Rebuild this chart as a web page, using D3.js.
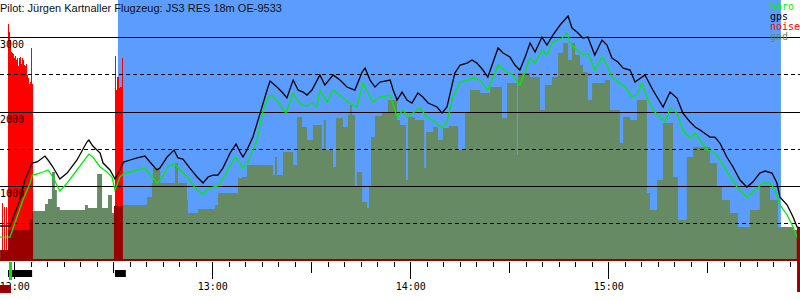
<!DOCTYPE html>
<html>
<head>
<meta charset="utf-8">
<script src="https://cdn.jsdelivr.net/npm/d3@7"></script>
<style>
  body { margin: 0; background: #fff; }
  svg { display: block; }
</style>
</head>
<body>
<div id="chart"></div>
<script>
const width = 800;
const height = 300;
const title = 'Pilot: Jürgen Kartnaller Flugzeug: JS3 RES 18m OE-9533';

// times are minutes after 12:00, heights in metres
const gps = [[-4.3,463],[-1.3,463],[1.7,812],[3.2,1080],[5.4,1308],[6.9,1322],[9.3,1402],[10.2,1349],
  [11.7,1255],[13.8,1094],[16.0,1174],[19.0,1349],[22.0,1590],[22.6,1617],[23.8,1536],[26.0,1443],
  [26.9,1308],[29.0,1215],[30.5,1094],[32.0,1215],[33.1,1322],[35.1,1349],[37.2,1376],[39.6,1402],
  [41.1,1322],[43.2,1215],[44.1,1241],[46.3,1389],[48.4,1483],[49.6,1376],[51.1,1362],[53.2,1241],
  [55.4,1121],[57.2,1040],[58.7,1121],[60.2,1147],[61.7,1147],[63.2,1241],[65.4,1443],[67.2,1563],
  [68.4,1456],[69.3,1389],[70.5,1483],[72.3,1657],[74.5,1979],[76.6,2288],[77.5,2409],[79.6,2328],
  [81.4,2248],[82.6,2181],[84.5,2422],[86.0,2288],[87.5,2261],[88.7,2221],[90.2,2288],[92.6,2490],
  [94.1,2355],[96.6,2490],[98.7,2422],[100.8,2328],[103.2,2288],[105.4,2530],[106.3,2583],[107.8,2422],
  [109.3,2328],[110.8,2395],[113.9,2422],[114.8,2288],[116.0,2154],[117.5,2261],[119.0,2154],[120.5,2114],
  [122.3,2248],[123.8,2194],[125.4,2114],[128.1,2060],[129.6,1979],[131.1,2060],[133.5,2516],[135.1,2624],
  [137.2,2650],[138.7,2691],[140.2,2650],[142.0,2557],[143.5,2463],[146.6,2852],[148.1,2785],[150.2,2731],
  [151.7,2624],[153.2,2557],[154.8,2731],[156.3,2919],[157.8,2798],[159.9,2999],[161.4,2892],[163.2,3026],
  [165.4,3161],[167.8,3281],[169.0,3120],[170.5,3067],[172.3,2986],[173.8,2999],[175.9,2758],[178.1,2959],
  [179.6,2892],[181.1,2718],[182.9,2664],[184.5,2583],[186.6,2557],[188.1,2395],[191.1,2490],[193.5,2288],
  [196.6,2060],[198.7,2261],[200.8,2181],[202.6,1979],[204.8,1859],[206.3,1792],[207.8,1751],[210.8,1657],
  [212.3,1657],[213.8,1577],[215.9,1389],[217.8,1255],[219.9,1080],[222.0,986],[223.8,1053],[225.9,1174],
  [227.5,1201],[229.6,1174],[231.1,1040],[232.0,852],[234.2,745],[236.0,584],[237.2,450],[238.1,436]];

const baro = [[-4.3,315],[-1.3,315],[2.6,812],[4.8,1040],[5.4,1147],[6.9,1161],[8.7,1188],[10.2,1215],
  [11.7,1121],[13.8,933],[16.0,1040],[19.0,1215],[22.6,1429],[23.8,1389],[26.0,1255],[28.1,1188],
  [29.6,1121],[30.5,946],[32.0,1121],[33.4,1174],[35.1,1188],[37.5,1215],[39.6,1241],[41.7,1121],
  [43.2,1040],[44.8,1107],[46.6,1268],[48.7,1295],[50.8,1188],[52.6,1121],[54.8,973],[56.9,892],
  [58.4,946],[60.2,986],[61.7,1000],[63.8,1147],[66.9,1389],[68.4,1308],[69.3,1241],[70.8,1322],
  [73.5,1617],[75.4,2020],[76.9,2194],[78.1,2221],[79.9,2127],[82.3,1979],[84.5,2248],[86.6,2100],
  [88.7,2073],[90.2,2114],[91.7,2060],[92.6,2288],[94.8,2127],[96.6,2288],[99.3,2194],[101.1,2127],
  [103.8,2060],[105.7,2382],[107.2,2248],[108.7,2127],[110.8,2194],[113.9,2221],[116.0,1926],[117.8,2020],
  [119.3,1926],[120.8,1979],[122.9,2047],[125.0,1926],[127.5,1859],[129.6,1778],[131.1,1859],[132.9,2194],
  [135.1,2395],[137.2,2422],[139.0,2449],[141.1,2422],[143.5,2288],[146.6,2624],[149.3,2530],[151.1,2490],
  [153.2,2355],[156.3,2718],[157.8,2650],[159.9,2825],[161.4,2758],[163.2,2932],[166.0,2986],[167.5,3053],
  [168.4,2919],[170.5,2825],[172.3,2758],[173.8,2785],[175.9,2557],[178.1,2731],[179.6,2624],[181.1,2463],
  [182.9,2395],[185.1,2328],[187.2,2194],[188.7,2221],[190.2,2382],[192.0,2154],[194.1,1993],[197.2,1859],
  [198.7,2047],[200.8,1979],[202.6,1751],[204.8,1644],[206.3,1711],[208.4,1577],[210.2,1483],[212.3,1443],
  [214.4,1308],[216.3,1174],[219.0,986],[222.0,852],[223.8,919],[226.9,1040],[229.0,1040],[230.5,946],
  [232.0,745],[234.2,611],[236.0,450],[237.2,315],[238.1,275]];

// terrain below the glider, each value holds until the next time
const gnd = [[-4.3,141],[-1.9,409],[4.5,557],[5.4,664],[9.3,758],[10.2,825],[11.4,1188],[12.3,946],
  [12.9,718],[13.8,678],[21.4,745],[22.3,705],[25.1,1161],[26.6,705],[28.4,879],[29.6,637],[30.2,731],
  [32.9,745],[40.2,852],[41.7,1040],[42.0,1241],[44.2,1040],[48.7,1308],[49.6,1040],[52.3,812],
  [52.6,637],[55.7,691],[60.8,745],[61.7,906],[67.8,1107],[69.0,1121],[70.5,1282],[78.4,1147],
  [79.0,1389],[79.6,1147],[81.4,1456],[84.5,1282],[85.7,1926],[87.2,1792],[88.7,1617],[90.5,1818],
  [93.2,1483],[93.8,1885],[94.4,1483],[96.6,1255],[97.5,1912],[99.6,1792],[101.1,1953],[101.7,2087],
  [102.3,1953],[103.2,986],[103.8,1188],[105.4,785],[106.9,705],[107.5,986],[108.1,1657],[109.3,1939],
  [111.4,1993],[113.2,2154],[116.0,1885],[116.9,1818],[118.7,1080],[119.3,1926],[121.4,1885],
  [124.2,1241],[124.8,1724],[126.9,1792],[128.4,1617],[129.9,1778],[131.7,1805],[134.5,1483],
  [136.6,1979],[138.1,2288],[141.1,2248],[144.2,2328],[147.8,1912],[149.3,2382],[152.3,1416],
  [152.6,2516],[156.3,2463],[159.3,2020],[160.8,2355],[162.9,2463],[164.8,2785],[166.3,2919],
  [167.8,2691],[169.0,2919],[169.9,2758],[171.4,2624],[172.3,2530],[173.8,2154],[175.1,2382],
  [179.0,2422],[180.5,2020],[183.5,1577],[184.5,1926],[186.6,1885],[188.7,2154],[191.7,906],
  [192.6,678],[194.8,1080],[196.6,1845],[199.6,1121],[201.1,544],[203.8,1389],[205.7,1523],
  [210.8,1308],[212.9,986],[214.4,812],[216.9,637],[219.3,450],[222.9,678],[225.9,986],[229.0,812],
  [231.4,450],[236.0,409],[238.1,409]];

// engine noise level 0..1000
const noise = [[-3.73,219],[-3.12,204],[-2.52,204],
  [-1.91,908],[-1.61,877],[-1.30,846],[-1.00,800],[-0.70,796],[-0.39,792],[-0.09,777],[0.21,785],
  [0.52,769],[0.82,777],[1.12,746],[1.42,777],[1.73,781],[2.03,754],[2.33,777],[2.64,769],[2.94,750],
  [3.24,746],[3.55,754],[3.85,712],[4.15,700],[4.45,677],[4.76,685],[5.06,815],[5.36,677],
  [30.52,785],[30.82,654],[31.12,704],[31.42,704],[31.73,662],[32.03,665],[32.33,665],[32.64,777],
  [237.2,123],[237.5,123],[237.8,123]];

const noisyGround = [[-4.3,5.7],[30.2,32.9],[237.1,238.1]];
const engineRuns = [[-1.9,5.4],[30.5,33.8]];
const taskSpan = [31.4,232.3];
const takeoff = [-1.6,-0.7];
const landing = [237.2,238.1];

const solidLevels = [1000,2000,3000];
const dashedLevels = [500,1500,2500];
const legend = [{name:'baro',color:'#00ee00'},{name:'gps',color:'#000'},{name:'noise',color:'#ff0000'},{name:'gnd',color:'#658a64'}];

const t0 = new Date(2021, 6, 1, 12, 0, 0);
const at = m => new Date(+t0 + m * 60000);

const x = d3.scaleTime().domain([at(-4.333), at(238.09)]).range([0, width]);
const y = d3.scaleLinear().domain([0, 3000]).range([260.5, 37]);
const yNoise = d3.scaleLinear().domain([0, 1000]).range([260.5, 0]);

const svg = d3.select('#chart').append('svg')
  .attr('width', width)
  .attr('height', height)
  .style('font-family', '"DejaVu Sans Mono", monospace');

svg.append('rect').attr('width', width).attr('height', height).attr('fill', '#fff');

// task area
svg.append('rect')
  .attr('x', x(at(taskSpan[0])))
  .attr('y', 0)
  .attr('width', x(at(taskSpan[1])) - x(at(taskSpan[0])))
  .attr('height', y(0))
  .attr('fill', '#5b9dff');

// noise bars
svg.append('g')
  .attr('shape-rendering', 'crispEdges')
  .selectAll('rect')
  .data(noise)
  .join('rect')
  .attr('x', d => x(at(d[0])))
  .attr('y', d => yNoise(d[1]))
  .attr('width', (d, i) => i < 3 ? 1 : 1.4)
  .attr('height', d => yNoise(0) - yNoise(d[1]))
  .attr('fill', '#ff0000');

// ground
const area = d3.area()
  .x(d => x(at(d[0])))
  .y0(y(0))
  .y1(d => y(d[1]))
  .curve(d3.curveStepAfter);

svg.append('path').datum(gnd).attr('d', area).attr('fill', '#658a64');

const clip = svg.append('clipPath').attr('id', 'noisy');
clip.selectAll('rect')
  .data(noisyGround)
  .join('rect')
  .attr('x', d => x(at(d[0])))
  .attr('y', 0)
  .attr('width', d => x(at(d[1])) - x(at(d[0])))
  .attr('height', height);

svg.append('path').datum(gnd).attr('d', area).attr('fill', '#990000').attr('clip-path', 'url(#noisy)');

// grid
svg.append('g')
  .attr('shape-rendering', 'crispEdges')
  .selectAll('line')
  .data(solidLevels.concat(dashedLevels))
  .join('line')
  .attr('x1', 0)
  .attr('x2', width)
  .attr('y1', d => Math.round(y(d)) + 0.5)
  .attr('y2', d => Math.round(y(d)) + 0.5)
  .attr('stroke', '#000')
  .attr('stroke-dasharray', d => solidLevels.includes(d) ? null : '4,3');

// traces
const line = d3.line()
  .x(d => x(at(d[0])))
  .y(d => y(d[1]));

svg.append('path').datum(gps)
  .attr('d', line)
  .attr('fill', 'none')
  .attr('stroke', '#000')
  .attr('stroke-width', 1.3);

svg.append('path').datum(baro)
  .attr('d', line)
  .attr('fill', 'none')
  .attr('stroke', '#00ee00')
  .attr('stroke-width', 1.3);

// ground line of time axis
svg.append('rect')
  .attr('x', 0).attr('y', 259).attr('width', width).attr('height', 2)
  .attr('fill', '#990000');

// time axis
const axis = svg.append('g')
  .attr('transform', 'translate(0,262)')
  .call(d3.axisBottom(x)
    .ticks(d3.timeMinute.every(5))
    .tickSize(5)
    .tickFormat(d => d.getMinutes() === 0 ? d3.timeFormat('%H:%M')(d) : ''));

axis.select('.domain').remove();
axis.selectAll('.tick line')
  .attr('stroke', '#000')
  .attr('shape-rendering', 'crispEdges')
  .attr('y2', d => d.getMinutes() === 0 ? 17 : d.getMinutes() === 30 ? 11 : 5);

// engine runs and takeoff/landing marks
svg.append('g')
  .selectAll('rect')
  .data(engineRuns)
  .join('rect')
  .attr('x', d => x(at(d[0])))
  .attr('y', 270)
  .attr('width', d => x(at(d[1])) - x(at(d[0])))
  .attr('height', 7)
  .attr('fill', '#000');

svg.append('rect')
  .attr('x', x(at(takeoff[0]))).attr('y', 262)
  .attr('width', x(at(takeoff[1])) - x(at(takeoff[0]))).attr('height', 18)
  .attr('fill', '#11dd11');

svg.append('rect')
  .attr('x', x(at(landing[0]))).attr('y', 228)
  .attr('width', x(at(landing[1])) - x(at(landing[0]))).attr('height', 64)
  .attr('fill', '#990000');

svg.append('rect')
  .attr('x', 0).attr('y', 285).attr('width', 11).attr('height', 8)
  .attr('fill', '#990000');

axis.selectAll('.tick text')
  .attr('y', 28)
  .attr('dy', 0)
  .attr('fill', '#000')
  .style('font-size', '10px')
  .style('font-family', '"DejaVu Sans Mono", monospace');

// altitude labels
svg.append('g')
  .selectAll('text')
  .data(solidLevels)
  .join('text')
  .attr('x', 0)
  .attr('y', d => Math.round(y(d)) + 11)
  .style('font-size', '10px')
  .text(d => d);

// title
svg.append('text')
  .attr('x', 0)
  .attr('y', 12)
  .style('font-family', '"Liberation Sans", Arial, sans-serif')
  .style('font-size', '11px')
  .attr('fill', '#111')
  .text(title);

// legend
svg.append('g')
  .selectAll('text')
  .data(legend)
  .join('text')
  .attr('x', 770)
  .attr('y', (d, i) => 10 + i * 10)
  .attr('fill', d => d.color)
  .style('font-size', '10px')
  .text(d => d.name);
</script>
</body>
</html>
